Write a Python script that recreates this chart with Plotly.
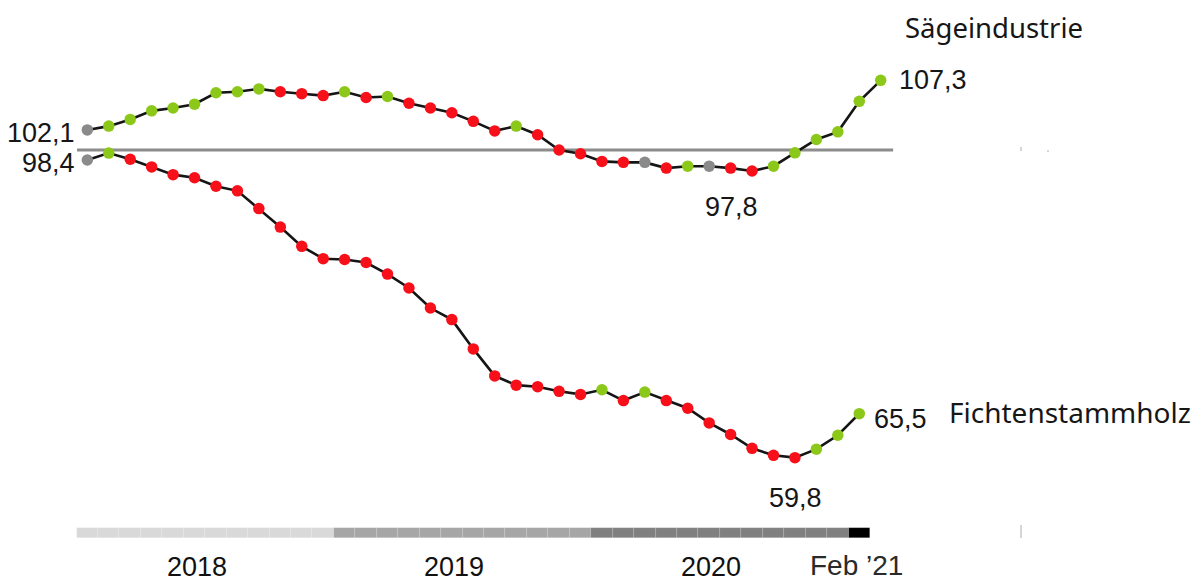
import plotly.graph_objects as go

# ---------------- data ----------------
months = [f"{m:02d}/{y}" for y in (2018, 2019, 2020) for m in range(1, 13)] + ["01/2021", "02/2021"]

saege = [102.1, 102.5, 103.2, 104.1, 104.4, 104.8, 106.0, 106.1, 106.4, 106.1,
         105.9, 105.7, 106.1, 105.5, 105.6, 104.9, 104.4, 103.9, 103.0, 102.0,
         102.5, 101.6, 100.0, 99.6, 98.8, 98.7, 98.7, 98.1, 98.3, 98.3,
         98.1, 97.8, 98.3, 99.7, 101.1, 101.9, 105.1, 107.3]

fichte = [98.4, 99.3, 98.5, 97.5, 96.5, 96.1, 95.0, 94.4, 92.1, 89.7,
          87.2, 85.6, 85.5, 85.1, 83.6, 81.8, 79.2, 77.7, 73.9, 70.4,
          69.2, 69.0, 68.4, 68.0, 68.6, 67.2, 68.3, 67.2, 66.2, 64.3,
          62.8, 61.0, 60.1, 59.8, 60.9, 62.7, 65.5]

series_names = ["Sägeindustrie", "Fichtenstammholz"]
year_labels = ["2018", "2019", "2020"]
last_label = "Feb \u201921"
reference_value = 100

# ---------------- styling ----------------
GREEN = "#8cc81a"
RED = "#f7101a"
GREY = "#8a8a8a"
NUM_FONT = "Liberation Sans, Arial, sans-serif"
NAME_FONT = "Noto Sans, Open Sans, sans-serif"
TXT = "#161616"
year_colors = {"2018": "#d9d9d9", "2019": "#a6a6a6", "2020": "#808080", "2021": "#000000"}


def dot_colors(vals):
    cols = [GREY]
    for a, b in zip(vals[:-1], vals[1:]):
        cols.append(GREEN if b > a else (RED if b < a else GREY))
    return cols


def fmt(v):
    return f"{v:.1f}".replace(".", ",")


xs_s = list(range(len(saege)))
xs_f = list(range(len(fichte)))

fig = go.Figure()

# timeline bar (one cell per month)
bar_months = months[:len(fichte)]
fig.add_trace(go.Bar(
    x=xs_f, y=[1] * len(bar_months), width=1,
    marker=dict(color=[year_colors[m[-4:]] for m in bar_months],
                line=dict(color="rgba(255,255,255,0.18)", width=0.6)),
    yaxis="y3", hoverinfo="skip", showlegend=False,
))

fig.add_trace(go.Scatter(
    x=xs_s, y=saege, mode="lines+markers", name=series_names[0],
    line=dict(color="#151515", width=2.6),
    marker=dict(color=dot_colors(saege), size=11.5, line=dict(width=0)),
    yaxis="y", showlegend=False,
))

fig.add_trace(go.Scatter(
    x=xs_f, y=fichte, mode="lines+markers", name=series_names[1],
    line=dict(color="#151515", width=2.6),
    marker=dict(color=dot_colors(fichte), size=11.5, line=dict(width=0)),
    yaxis="y2", showlegend=False,
))

# reference line at 100
fig.add_shape(type="line", xref="x", yref="y", x0=-0.48, x1=37.58,
              y0=reference_value, y1=reference_value,
              line=dict(color="#8c8c8c", width=3), layer="below")

# tiny stray marks from the original
for (x0, y0, x1, y1) in [(1021, 147, 1021, 151), (1048, 150, 1048, 152), (1021, 525, 1021, 538)]:
    fig.add_shape(type="line", xref="paper", yref="paper",
                  x0=x0 / 1200, x1=x1 / 1200, y0=1 - y0 / 583, y1=1 - y1 / 583,
                  line=dict(color="#c8c8c8", width=1.5))

ann = []
num_font = dict(family=NUM_FONT, size=27, color=TXT)

imin_s = saege.index(min(saege))
imin_f = fichte.index(min(fichte))

ann.append(dict(x=0, y=saege[0], xref="x", yref="y", text=fmt(saege[0]),
                xanchor="right", yanchor="middle", xshift=-10, yshift=-3, showarrow=False, font=num_font))
ann.append(dict(x=0, y=fichte[0], xref="x", yref="y2", text=fmt(fichte[0]),
                xanchor="right", yanchor="middle", xshift=-10, yshift=-3, showarrow=False, font=num_font))
ann.append(dict(x=imin_s, y=saege[imin_s], xref="x", yref="y", text=fmt(saege[imin_s]),
                xanchor="center", yanchor="middle", xshift=-21, yshift=-36, showarrow=False, font=num_font))
ann.append(dict(x=len(saege) - 1, y=saege[-1], xref="x", yref="y", text=fmt(saege[-1]),
                xanchor="left", yanchor="middle", xshift=16, yshift=0, showarrow=False, font=num_font))
ann.append(dict(x=len(fichte) - 1, y=fichte[-1], xref="x", yref="y2", text=fmt(fichte[-1]),
                xanchor="left", yanchor="middle", xshift=13, yshift=-5, showarrow=False, font=num_font))
ann.append(dict(x=imin_f, y=fichte[imin_f], xref="x", yref="y2", text=fmt(fichte[imin_f]),
                xanchor="center", yanchor="middle", xshift=1, yshift=-40, showarrow=False, font=num_font))

# series names
ann.append(dict(x=903 / 1200, y=1 - 28 / 583, xref="paper", yref="paper", text=series_names[0],
                xanchor="left", yanchor="middle", showarrow=False,
                font=dict(family=NAME_FONT, size=27.5, color=TXT)))
ann.append(dict(x=947 / 1200, y=1 - 412 / 583, xref="paper", yref="paper", text=series_names[1],
                xanchor="left", yanchor="middle", showarrow=False,
                font=dict(family=NAME_FONT, size=28, color=TXT)))

# year labels under the timeline
for k, lab in enumerate(year_labels):
    ann.append(dict(x=12 * k + 5, y=1 - 567 / 583, xref="x", yref="paper", text=lab,
                    xanchor="center", yanchor="middle", xshift=2, showarrow=False,
                    font=dict(family=NUM_FONT, size=27, color="#111111")))
ann.append(dict(x=len(saege) - 2, y=1 - 565 / 583, xref="x", yref="paper", text=last_label,
                xanchor="center", yanchor="middle", xshift=-3, showarrow=False,
                font=dict(family=NUM_FONT, size=28, color="#2a2a2a")))

fig.update_layout(
    width=1200, height=583, autosize=False,
    margin=dict(l=0, r=0, t=0, b=0),
    paper_bgcolor="white", plot_bgcolor="white",
    showlegend=False,
    xaxis=dict(visible=False, range=[-4.072, 51.89], fixedrange=True),
    yaxis=dict(visible=False, range=[54.61, 115.72], fixedrange=True),
    yaxis2=dict(visible=False, range=[43.54, 119.15], overlaying="y", fixedrange=True),
    yaxis3=dict(visible=False, range=[-4.5, 53.8], overlaying="y", fixedrange=True),
    bargap=0,
    annotations=ann,
)

fig.write_html("out.html", config={"displayModeBar": False},
               post_script="document.body.style.margin='0';document.body.style.overflow='hidden';")
